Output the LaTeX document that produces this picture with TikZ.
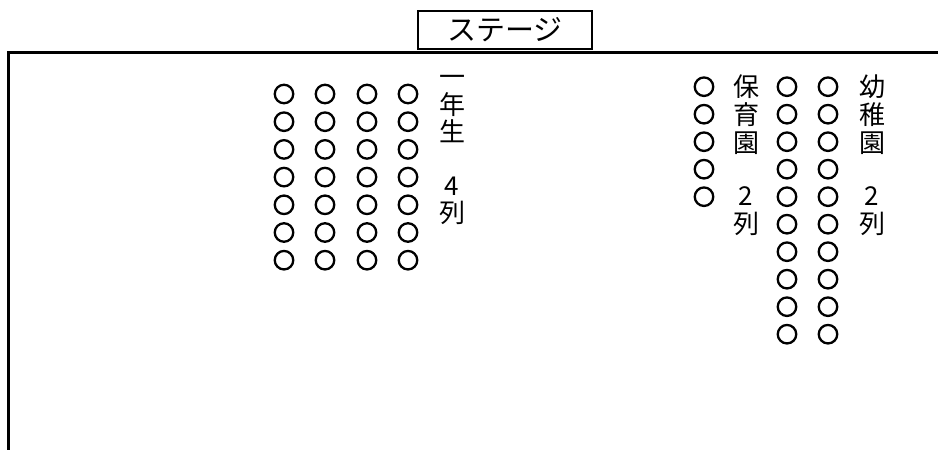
\documentclass[tikz,border=0pt]{standalone}
\usepackage{fontspec}
\newfontfamily\jp{Noto Sans CJK JP}
\begin{document}
\begin{tikzpicture}[x=1pt,y=-1pt,
 seat/.style={circle,draw,line width=2.3pt,minimum size=18.5pt,inner sep=0pt},
 vlabel/.style={font=\jp\fontsize{26}{27.6}\selectfont,align=center,anchor=north,inner sep=0pt},
 stagebox/.style={draw,line width=2.2pt,minimum width=174pt,minimum height=38pt,inner sep=0pt,font=\jp\fontsize{29}{32}\selectfont}]
\useasboundingbox (0,0) rectangle (938,450);
\draw[line width=3pt] (8,450) -- (8,52) -- (938,52);
\node[stagebox] (stage) at (505,30) {ステージ};
\foreach \c/\x in {1/284,2/325,3/367,4/408}
  \foreach \r in {0,...,6}
    \node[seat] (a\c-\r) at (\x,{94+27.7*\r}) {};
\foreach \r in {0,...,4}
  \node[seat] (b1-\r) at (704,{86.7+27.5*\r}) {};
\foreach \c/\x in {2/787,3/828}
  \foreach \r in {0,...,9}
    \node[seat] (b\c-\r) at (\x,{86.7+27.5*\r}) {};
\node[vlabel] (l1) at (452,75) {一\\年\\生\\[26pt]4\\列};
\node[vlabel] (l2) at (746,75) {保\\育\\園\\[26pt]2\\列};
\node[vlabel] (l3) at (872,75) {幼\\稚\\園\\[26pt]2\\列};
\end{tikzpicture}
\end{document}
